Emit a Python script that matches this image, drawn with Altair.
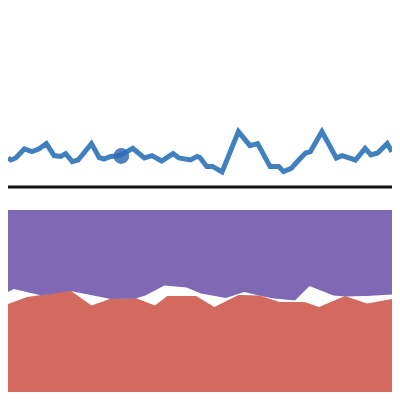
import altair as alt
import pandas as pd

# --- data (x in 0..100 units, values in 0..98 units) ---
line_x = [0, 0.75, 2, 4.25, 6.25, 8, 10, 12, 13.75, 15, 16.75, 18.25, 21.75, 23.75, 25,
          26.75, 28.25, 29.5, 32.5, 35.5, 37.5, 40, 43, 44.5, 47.5, 49.25, 50, 51.75,
          53.25, 55.75, 60, 63, 65, 68.25, 70.5, 71.75, 73.75, 75, 77.5, 78.75, 81.75,
          85.5, 87, 90.5, 93, 94.5, 96.25, 98.75, 100]
line_v = [60.5, 60, 60.5, 62.75, 62.1, 62.75, 64.1, 61.1, 60.9, 61.6, 59.6, 60, 64.1, 60.6,
          60.25, 60.9, 61, 61.25, 62.9, 60.5, 61.1, 59.75, 61.6, 60.5, 60, 60.9, 60.6, 58.4,
          58.4, 57, 67.1, 63.6, 64.1, 58.4, 58.4, 57.1, 57.9, 59.25, 61.75, 62.1, 67.1,
          60.5, 61.1, 60, 62.9, 61.25, 61.75, 64.1, 62.1]

point_x = [29.5]
point_v = [61]

rule_v = 53.25

band_top = 47.5
band_x = [0, 1.5, 8.75, 16.25, 26.75, 33.25, 35.75, 40.75, 46.5, 50.25, 56.75, 61.5,
          66.5, 69.25, 74.75, 78.5, 84.75, 87.75, 93.5, 100]
band_bottom = [27, 27.75, 26.1, 27.25, 25.25, 25.4, 26.1, 28.6, 28.1, 26.6, 25.5, 27,
               25.9, 25.4, 24.9, 28.5, 26.1, 25.9, 26, 26.4]

red_x = [0, 5, 8.25, 16.25, 21.75, 26.75, 33.25, 38.25, 41.5, 49, 53.75, 60, 65.5,
         70.75, 77.25, 81, 87.75, 93.5, 100]
red_top = [24, 25.75, 26.2, 27.35, 23.6, 25.3, 25.5, 23.6, 26, 26, 23.25, 26.25, 26.1,
           24.5, 24.5, 23.25, 26, 24.1, 25.25]

line_df = pd.DataFrame({"x": line_x, "v": line_v})
point_df = pd.DataFrame({"x": point_x, "v": point_v})
band_df = pd.DataFrame({"x": band_x, "top": [band_top] * len(band_x), "bottom": band_bottom})
red_df = pd.DataFrame({"x": red_x, "v": red_top, "base": [0] * len(red_x)})

xs = alt.Scale(domain=[0, 100], nice=False, zero=False)
ys = alt.Scale(domain=[2, 98], nice=False, zero=False)

red = alt.Chart(red_df).mark_area(color="#d3695f", opacity=1, clip=True).encode(
    x=alt.X("x:Q", scale=xs, axis=None),
    y=alt.Y("v:Q", scale=ys, axis=None),
    y2="base:Q",
)

band = alt.Chart(band_df).mark_area(color="#7f69b5", opacity=1, clip=True).encode(
    x=alt.X("x:Q", scale=xs, axis=None),
    y=alt.Y("top:Q", scale=ys, axis=None),
    y2="bottom:Q",
)

rule = alt.Chart(pd.DataFrame({"v": [rule_v]})).mark_rule(
    color="#111111", strokeWidth=3
).encode(y=alt.Y("v:Q", scale=ys, axis=None))

line = alt.Chart(line_df).mark_line(color="#4080bf", strokeWidth=5).encode(
    x=alt.X("x:Q", scale=xs, axis=None),
    y=alt.Y("v:Q", scale=ys, axis=None),
)

dot = alt.Chart(point_df).mark_circle(color="#2f6cb6", opacity=0.85, size=250).encode(
    x=alt.X("x:Q", scale=xs, axis=None),
    y=alt.Y("v:Q", scale=ys, axis=None),
)

chart = alt.layer(red, band, rule, line, dot).properties(
    width=384, height=384, padding=0, autosize="none"
).configure_view(stroke=None)

chart.save("out.html", embed_options={"renderer": "svg", "actions": False})
